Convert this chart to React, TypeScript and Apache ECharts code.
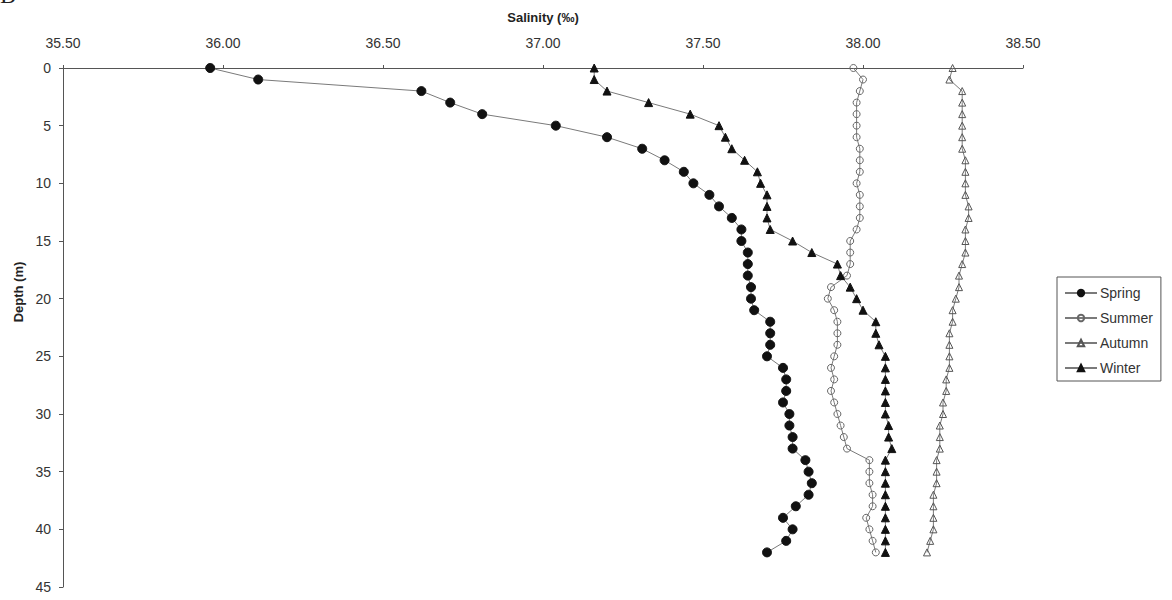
import React, { useEffect, useRef } from "react";
import * as echarts from "echarts";

const depths = [0, 1, 2, 3, 4, 5, 6, 7, 8, 9, 10, 11, 12, 13, 14, 15, 16, 17, 18, 19, 20, 21, 22, 23, 24, 25, 26, 27, 28, 29, 30, 31, 32, 33, 34, 35, 36, 37, 38, 39, 40, 41, 42];

const spring = [35.96, 36.11, 36.62, 36.71, 36.81, 37.04, 37.2, 37.31, 37.38, 37.44, 37.47, 37.52, 37.55, 37.59, 37.62, 37.62, 37.64, 37.64, 37.64, 37.65, 37.65, 37.66, 37.71, 37.71, 37.71, 37.7, 37.75, 37.76, 37.76, 37.75, 37.77, 37.77, 37.78, 37.78, 37.82, 37.83, 37.84, 37.83, 37.79, 37.75, 37.78, 37.76, 37.7];

const summer = [37.97, 38.0, 37.99, 37.98, 37.98, 37.98, 37.98, 37.99, 37.99, 37.99, 37.98, 37.99, 37.99, 37.99, 37.98, 37.96, 37.96, 37.96, 37.95, 37.9, 37.89, 37.91, 37.92, 37.92, 37.92, 37.91, 37.9, 37.91, 37.9, 37.91, 37.92, 37.93, 37.94, 37.95, 38.02, 38.02, 38.02, 38.03, 38.03, 38.01, 38.02, 38.03, 38.04];

const autumn = [38.28, 38.27, 38.31, 38.31, 38.31, 38.31, 38.31, 38.31, 38.32, 38.32, 38.32, 38.32, 38.33, 38.33, 38.32, 38.32, 38.32, 38.31, 38.3, 38.3, 38.29, 38.28, 38.28, 38.27, 38.27, 38.27, 38.27, 38.26, 38.26, 38.25, 38.25, 38.24, 38.24, 38.24, 38.23, 38.23, 38.23, 38.22, 38.22, 38.22, 38.22, 38.21, 38.2];

const winter = [37.16, 37.16, 37.2, 37.33, 37.46, 37.55, 37.57, 37.59, 37.63, 37.67, 37.68, 37.7, 37.7, 37.7, 37.71, 37.78, 37.84, 37.92, 37.93, 37.96, 37.98, 38.0, 38.04, 38.04, 38.05, 38.07, 38.07, 38.07, 38.07, 38.07, 38.07, 38.08, 38.08, 38.09, 38.07, 38.07, 38.07, 38.07, 38.07, 38.07, 38.07, 38.07, 38.07];

const seasonNames = ["Spring", "Summer", "Autumn", "Winter"];

const FONT = "'Liberation Sans', Arial, sans-serif";

export default function App() {
  const ref = useRef<HTMLDivElement>(null);
  useEffect(() => {
    document.body.style.margin = "0";
    const chart = echarts.init(ref.current!, null, { renderer: "svg" });
    const toPairs = (vals: number[]) => vals.map((v, i) => [v, depths[i]]);
    const lineColor = "#7a7a7a";
    const mk = (name: string, vals: number[], symbol: string, size: number, fill: string, border: string) => ({
      name,
      type: "line",
      data: toPairs(vals),
      symbol,
      symbolSize: size,
      showSymbol: true,
      lineStyle: { color: lineColor, width: 1 },
      itemStyle: { color: fill, borderColor: border, borderWidth: 1 },
    });
    chart.setOption({
      animation: false,
      backgroundColor: "#fff",
      textStyle: { fontFamily: FONT },
      grid: { left: 63, top: 68, right: 149, bottom: 13 },
      xAxis: {
        type: "value",
        position: "top",
        min: 35.5,
        max: 38.5,
        interval: 0.5,
        name: "Salinity (‰)",
        nameLocation: "middle",
        nameGap: 44,
        nameTextStyle: { fontWeight: "bold", fontSize: 13, color: "#222", fontFamily: FONT },
        axisLine: { lineStyle: { color: "#555", width: 1 } },
        axisTick: { show: true, length: 3, lineStyle: { color: "#555" } },
        axisLabel: { margin: 18, fontSize: 14, color: "#333", formatter: (v: number) => v.toFixed(2) },
        splitLine: { show: false },
      },
      yAxis: {
        type: "value",
        inverse: true,
        min: 0,
        max: 45,
        interval: 5,
        axisLine: { show: true, lineStyle: { color: "#555", width: 1 } },
        axisTick: { show: true, length: 4, lineStyle: { color: "#555" } },
        axisLabel: { margin: 12, fontSize: 14, color: "#333" },
        splitLine: { show: false },
      },
      legend: {
        orient: "vertical",
        left: 1057,
        top: 277,
        data: seasonNames,
        itemWidth: 32,
        itemHeight: 8,
        itemGap: 11,
        padding: [9, 8, 6, 7],
        borderColor: "#555",
        borderWidth: 1,
        textStyle: { fontSize: 14, color: "#333", fontFamily: FONT, padding: [0, 0, 0, -2] },
      },
      graphic: [
        {
          type: "text",
          left: 0,
          top: -17,
          style: { text: "B", fontSize: 24, fontFamily: "'Liberation Serif', 'Times New Roman', serif", fill: "#222" },
        },
        {
          type: "text",
          x: 18,
          y: 292,
          rotation: Math.PI / 2,
          style: {
            text: "Depth (m)",
            fontSize: 13,
            fontWeight: "bold",
            fontFamily: FONT,
            fill: "#222",
            align: "center",
            verticalAlign: "middle",
          },
        },
      ],
      series: [
        mk("Spring", spring, "circle", 9, "#111", "#111"),
        mk("Summer", summer, "circle", 7, "rgba(255,255,255,0)", "#666"),
        mk("Autumn", autumn, "triangle", 7, "rgba(255,255,255,0)", "#555"),
        mk("Winter", winter, "triangle", 8, "#111", "#111"),
      ],
    });
    return () => chart.dispose();
  }, []);
  return <div ref={ref} style={{ width: 1172, height: 600 }} />;
}
